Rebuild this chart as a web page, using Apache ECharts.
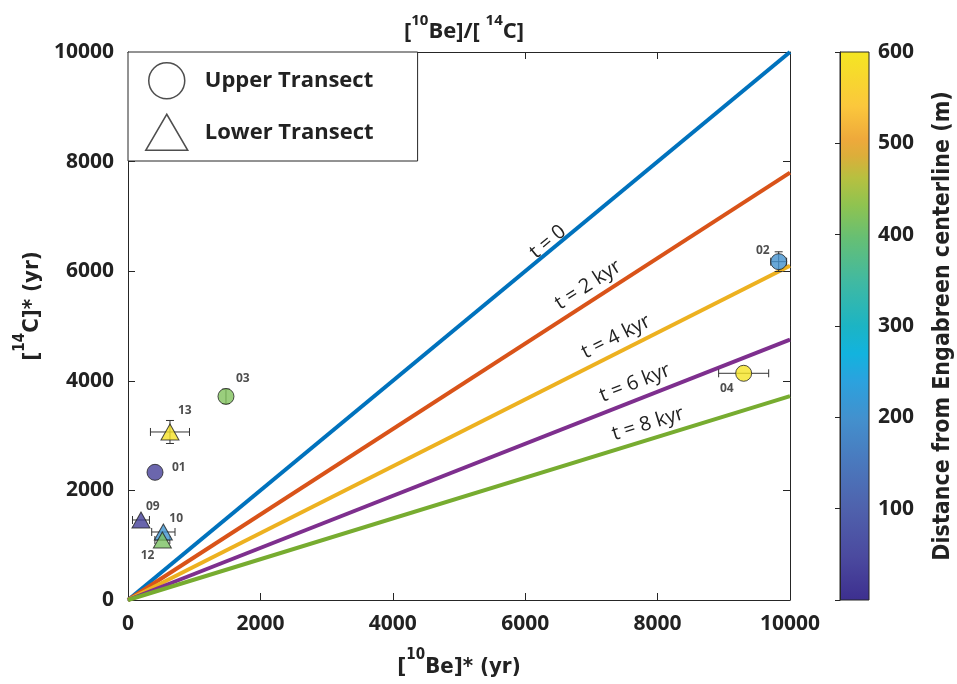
<!DOCTYPE html>
<html><head><meta charset="utf-8">
<script src="https://cdn.jsdelivr.net/npm/echarts@6/dist/echarts.min.js"></script>
<style>html,body{margin:0;padding:0;background:#fff}#c{width:957px;height:684px}</style>
</head><body><div id="c"></div>
<script>
// ---- data ----
var pointIds   = ['01','02','03','04','09','10','12','13'];
var transect   = ['upper','upper','upper','upper','lower','lower','lower','lower'];
var be10       = [408, 9829, 1480, 9300, 196, 534, 519, 634];      // [10Be]* (yr)
var c14        = [2330, 6174, 3715, 4137, 1460, 1241, 1095, 3066]; // [14C]* (yr)
var be10Err    = [0, 120, 0, 378, 128, 176, 113, 295];
var c14Err     = [0, 180, 130, 0, 0, 0, 0, 210];
var distance   = [30, 200, 420, 595, 25, 205, 415, 590];           // m from centerline
var lineNames  = ['t = 0','t = 2 kyr','t = 4 kyr','t = 6 kyr','t = 8 kyr'];
var lineEndC14 = [10000, 7800, 6100, 4750, 3720];                  // [14C] at [10Be]=10000
var axisTicks  = [0, 2000, 4000, 6000, 8000, 10000];
var cbarTicks  = [100, 200, 300, 400, 500, 600];

// ---- styles / positions ----
var lineColors = ['#0072bd','#d95319','#edb120','#7e2f8e','#77ac30'];
var lineLabelPos = [[6344,6533],[6949,5748],[7372,4799],[7659,3960],[7855,3212]];
var ptLabelOffset = {'01':[17,-5,'left'],'02':[-9,-11,'right'],'03':[10,-18,'left'],'04':[-10,15,'right'],
                     '09':[5,-13,'left'],'10':[6,-13,'left'],'12':[-8,16,'right'],'13':[8,-21,'left']};
var parula = [
 [0.00,'#3d2f8f'],[0.08,'#4b4a9f'],[0.17,'#4f62ad'],[0.25,'#4a78bd'],[0.33,'#4390cd'],
 [0.40,'#2ba2de'],[0.45,'#12b3de'],[0.50,'#1cb4c4'],[0.58,'#40b9a2'],[0.66,'#66bf74'],
 [0.72,'#8fc350'],[0.77,'#b7c040'],[0.81,'#dcae3a'],[0.84,'#eea93b'],[0.90,'#fbc73c'],[1.00,'#f4e622']];

function hex2rgb(h){return [parseInt(h.substr(1,2),16),parseInt(h.substr(3,2),16),parseInt(h.substr(5,2),16)];}
function cmapAt(t){
  for (var i=1;i<parula.length;i++){
    if (t<=parula[i][0]){
      var a=parula[i-1], b=parula[i], f=(t-a[0])/(b[0]-a[0]);
      var ca=hex2rgb(a[1]), cb=hex2rgb(b[1]);
      return 'rgb('+ca.map(function(v,k){return Math.round(v+(cb[k]-v)*f);}).join(',')+')';
    }
  }
  return parula[parula.length-1][1];
}
var evenColors=[]; for (var s=0;s<=100;s++) evenColors.push(cmapAt(s/100));

var G = {left:128, top:52, width:662, height:548};
var FONT = '"Open Sans", "Noto Sans", sans-serif';
var NARROW = '"Liberation Sans Narrow", "DejaVu Sans Condensed", "Open Sans", sans-serif';
var axisCol = '#262626';

function series4(kind){
  var out=[];
  for (var i=0;i<pointIds.length;i++) if (transect[i]===kind){
    var o=ptLabelOffset[pointIds[i]];
    out.push({value:[be10[i],c14[i],distance[i]], name:pointIds[i],
      label:{show:true, formatter:pointIds[i], position:'inside', offset:[o[0],o[1]], align:o[2],
             fontSize:12, fontWeight:'bold', fontFamily:FONT, color:'#222'}});
  }
  return out;
}
var errData = pointIds.map(function(_,i){return [be10[i],c14[i],be10Err[i],c14Err[i]];});

var series = [];
lineEndC14.forEach(function(v,k){
  var ang = Math.atan((v/10000)*G.height/G.width)*180/Math.PI;
  series.push({type:'line', name:lineNames[k], data:[[0,0],[10000,v]], showSymbol:false, silent:true,
    lineStyle:{color:lineColors[k], width:4}, z:2,
    markPoint:{symbol:'circle', symbolSize:1, itemStyle:{color:'rgba(0,0,0,0)'}, silent:true,
      data:[{coord:lineLabelPos[k]}],
      label:{show:true, position:'inside', formatter:lineNames[k], rotate:ang, fontSize:20,
             fontFamily:FONT, color:'#222'}}});
});
series.push({type:'custom', name:'err', data:errData, z:3, silent:true,
  renderItem:function(params, api){
    var x=api.value(0), y=api.value(1), ex=api.value(2), ey=api.value(3);
    var ch=[]; var st={stroke:'#333', lineWidth:1};
    if (ex>0){
      var a=api.coord([x-ex,y]), b=api.coord([x+ex,y]);
      ch.push({type:'line', shape:{x1:a[0],y1:a[1],x2:b[0],y2:b[1]}, style:st});
      ch.push({type:'line', shape:{x1:a[0],y1:a[1]-4,x2:a[0],y2:a[1]+4}, style:st});
      ch.push({type:'line', shape:{x1:b[0],y1:b[1]-4,x2:b[0],y2:b[1]+4}, style:st});
    }
    if (ey>0){
      var c=api.coord([x,y-ey]), d=api.coord([x,y+ey]);
      ch.push({type:'line', shape:{x1:c[0],y1:c[1],x2:d[0],y2:d[1]}, style:st});
      ch.push({type:'line', shape:{x1:c[0]-4,y1:c[1],x2:c[0]+4,y2:c[1]}, style:st});
      ch.push({type:'line', shape:{x1:d[0]-4,y1:d[1],x2:d[0]+4,y2:d[1]}, style:st});
    }
    return {type:'group', children:ch};
  }});
series.push({type:'scatter', name:'Upper Transect', data:series4('upper'), symbol:'circle', symbolSize:16, z:5,
  itemStyle:{borderColor:'#222', borderWidth:1}});
series.push({type:'scatter', name:'Lower Transect', data:series4('lower'), symbol:'triangle', symbolSize:[18,16], z:5,
  itemStyle:{borderColor:'#222', borderWidth:1}});

function supRich(fam, size){
  return {n:{fontSize:size, fontWeight:'bold', fontFamily:fam, color:'#222', lineHeight:30, verticalAlign:'bottom'},
          sup:{fontSize:15, fontWeight:'bold', fontFamily:fam, color:'#222', lineHeight:15, verticalAlign:'top'}};
}
var tickLabel = {fontSize:21, fontWeight:'bold', fontFamily:FONT, color:'#222'};
function mainAxis(pos, showLabel){
  return {type:'value', min:0, max:10000, interval:2000, position:pos, gridIndex:0,
    axisLine:{show:true, onZero:false, lineStyle:{color:axisCol, width:1}},
    axisTick:{show:true, inside:true, length:7, lineStyle:{color:axisCol}},
    axisLabel:Object.assign({show:showLabel, margin:14, formatter:function(v){return axisTicks.indexOf(v)>=0?String(v):'';}}, tickLabel),
    splitLine:{show:false}};
}
var xBottom = mainAxis('bottom', true);
xBottom.name='{n|[}{sup|10}{n|Be]* (yr)}'; xBottom.nameLocation='middle'; xBottom.nameGap=48;
xBottom.nameTextStyle={rich:supRich(NARROW,22)};
var yLeft = mainAxis('left', true);
yLeft.name='{n|[}{sup|14}{n|C]* (yr)}'; yLeft.nameLocation='middle'; yLeft.nameGap=78;
yLeft.nameTextStyle={padding:[0,0,0,40], rich:supRich(NARROW,22)};

var option = {
  backgroundColor:'#fff',
  animation:false,
  title:{text:'{n|[}{sup|10}{n|Be]/[ }{sup|14}{n|C]}', left:459, top:8, textAlign:'center',
    textStyle:{rich:supRich(FONT,22)}},
  grid:[{left:G.left, top:G.top, width:G.width, height:G.height},
        {left:840, top:52, width:29, height:548, show:true, borderColor:axisCol, borderWidth:1,
         backgroundColor:{type:'linear', x:0, y:1, x2:0, y2:0,
           colorStops:parula.map(function(s){return {offset:s[0], color:s[1]};})}}],
  xAxis:[xBottom, mainAxis('top', false),
    {type:'value', gridIndex:1, min:0, max:1, show:false}],
  yAxis:[yLeft, mainAxis('right', false),
    {type:'value', gridIndex:1, min:0, max:600, interval:100, position:'right',
     axisLine:{show:true, lineStyle:{color:axisCol}},
     axisTick:{show:true, inside:true, length:5, lineStyle:{color:axisCol}},
     axisLabel:Object.assign({margin:9, formatter:function(v){return cbarTicks.indexOf(v)>=0?String(v):'';}}, tickLabel),
     splitLine:{show:false},
     name:'Distance from Engabreen centerline (m)', nameLocation:'middle', nameRotate:90, nameGap:63,
     nameTextStyle:{fontSize:23, fontWeight:'bold', fontFamily:NARROW, color:'#222'}}],
  visualMap:{show:false, type:'continuous', min:0, max:600, dimension:2, seriesIndex:[6,7],
    inRange:{color:evenColors}},
  legend:{orient:'vertical', left:128, top:52, itemWidth:42, itemHeight:36, itemGap:14,
    padding:[10,44,10,17], backgroundColor:'#fff', borderColor:axisCol, borderWidth:1,
    selectedMode:false,
    textStyle:{fontSize:22, fontWeight:'bold', fontFamily:FONT, color:'#222', padding:[0,0,0,12]},
    data:[{name:'Upper Transect', icon:'circle', itemStyle:{color:'#fff', borderColor:'#222', borderWidth:1.5}},
          {name:'Lower Transect', icon:'triangle', itemStyle:{color:'#fff', borderColor:'#222', borderWidth:1.5}}]},
  series:series
};
var chart = echarts.init(document.getElementById('c'), null, {renderer:'canvas'});
chart.setOption(option);
</script></body></html>
